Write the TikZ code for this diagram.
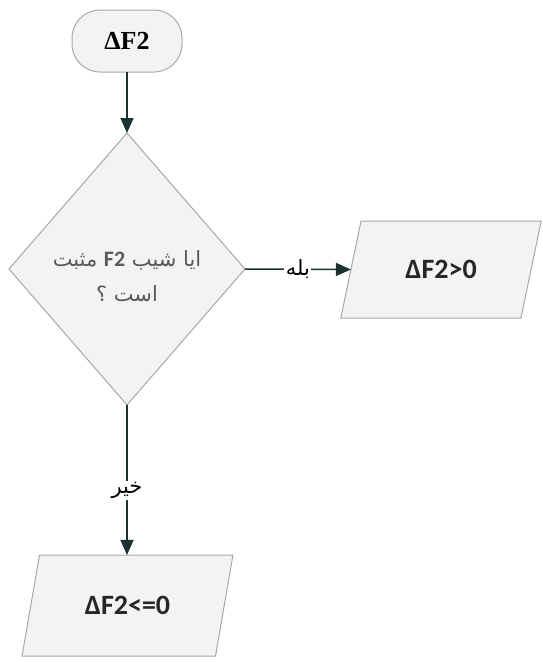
\documentclass[tikz,border=0pt]{standalone}
\usepackage{fontspec}
\usetikzlibrary{shapes.geometric,arrows.meta}
\TeXXeTstate=1
\newfontfamily\arabicfont[Script=Arabic]{DejaVu Sans}
\newfontfamily\carlito{Carlito}
\newfontfamily\timesfont{Liberation Serif}
\definecolor{boxfill}{HTML}{F3F3F3}
\definecolor{boxline}{HTML}{A8A8A8}
\definecolor{arrowcol}{HTML}{1C3232}
\definecolor{qtext}{HTML}{5A5A5A}
\tikzset{
  shapebase/.style={draw=boxline, fill=boxfill, line width=1pt, outer sep=0pt, inner sep=0pt},
  terminal/.style={shapebase, rectangle, rounded corners=28pt, minimum width=110pt, minimum height=62pt},
  decision/.style={shapebase, diamond, minimum width=236pt, minimum height=272pt, align=center},
  iobox/.style={shapebase, trapezium, trapezium stretches=true},
  flow/.style={draw=arrowcol, line width=1.5pt, -{Triangle[length=15pt,width=13pt]}},
  lbl/.style={fill=white, inner sep=1.5pt, text=black, font=\arabicfont\fontsize{21}{24}\selectfont}
}
\begin{document}
\begin{tikzpicture}[x=1pt,y=-1pt]
\useasboundingbox (0,0) rectangle (542,662);
\node[terminal, font=\timesfont\bfseries\fontsize{26}{30}\selectfont] (start) at (127,41) {ΔF2};
\node[decision, text=qtext, font=\arabicfont\fontsize{21}{35}\selectfont] (dec) at (127,269)
  {\rule{0pt}{30pt}\beginR ایا شیب \beginL{\carlito\bfseries\fontsize{22}{35}\selectfont F2}\endL{} مثبت\endR\\ \beginR است ؟\endR};
\node[iobox, trapezium left angle=64, trapezium right angle=116, minimum width=202pt, minimum height=97pt,
  font=\carlito\bfseries\fontsize{28}{30}\selectfont, text=black!85] (yes) at (441,269.5) {ΔF2>0};
\node[iobox, trapezium left angle=65.5, trapezium right angle=114.5, minimum width=211pt, minimum height=101pt,
  font=\carlito\bfseries\fontsize{28}{30}\selectfont, text=black!85] (no) at (127.5,605.5) {ΔF2<=0};
\draw[flow] (start.south) -- (dec.north);
\draw[flow] (dec.east) -- node[lbl, pos=0.5] {\beginR بله\endR} (yes.west);
\draw[flow] (dec.south) -- node[lbl, pos=0.57] {\beginR خیر\endR} (dec.south |- no.north);
\end{tikzpicture}
\end{document}
